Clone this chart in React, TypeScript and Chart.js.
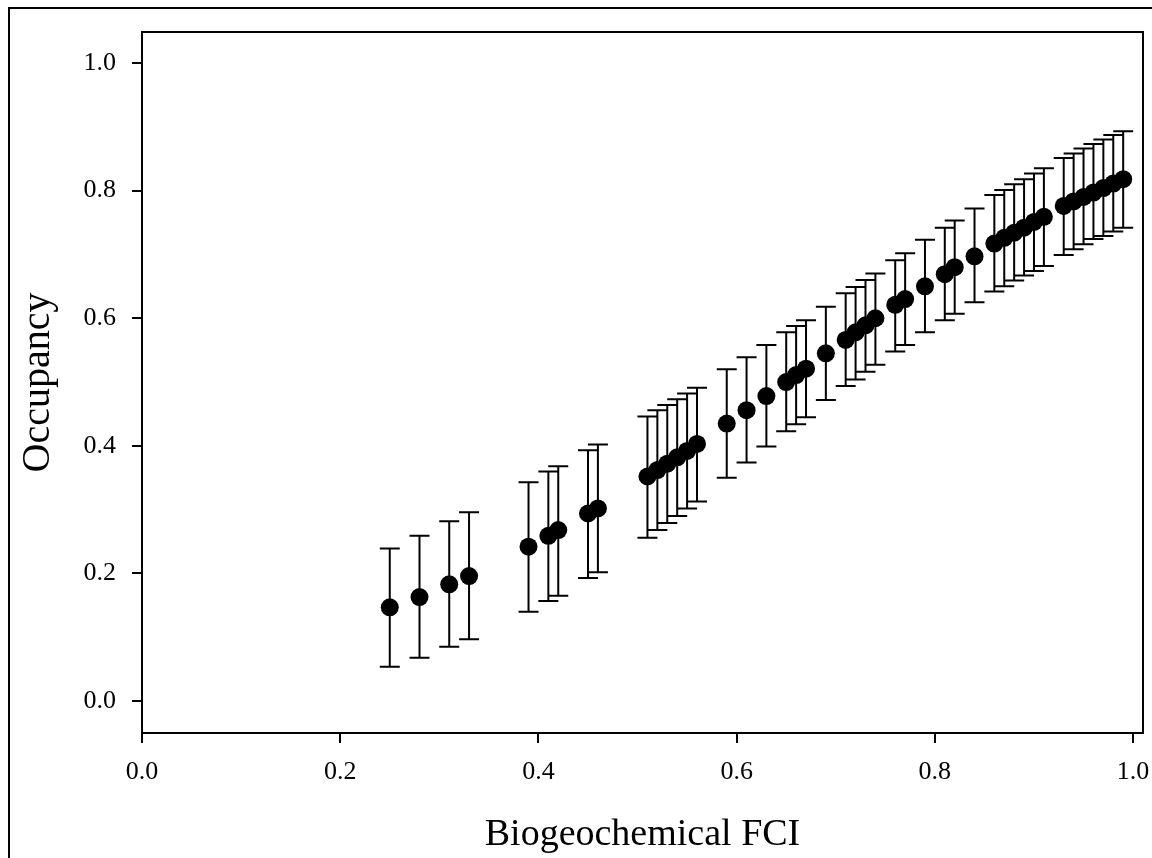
import React, { useEffect, useRef } from "react";
import { Chart, registerables } from "chart.js";

Chart.register(...registerables);

const fciValues = [0.25, 0.28, 0.31, 0.33, 0.39, 0.41, 0.42, 0.45, 0.46, 0.51, 0.52, 0.53, 0.54, 0.55, 0.56, 0.59, 0.61, 0.63, 0.65, 0.66, 0.67, 0.69, 0.71, 0.72, 0.73, 0.74, 0.76, 0.77, 0.79, 0.81, 0.82, 0.84, 0.86, 0.87, 0.88, 0.89, 0.90, 0.91, 0.93, 0.94, 0.95, 0.96, 0.97, 0.98, 0.99];
const occupancy = [0.147, 0.163, 0.183, 0.196, 0.242, 0.259, 0.268, 0.294, 0.302, 0.352, 0.362, 0.372, 0.382, 0.392, 0.403, 0.435, 0.456, 0.478, 0.500, 0.511, 0.521, 0.545, 0.566, 0.578, 0.589, 0.600, 0.621, 0.630, 0.650, 0.669, 0.680, 0.697, 0.717, 0.726, 0.734, 0.742, 0.751, 0.759, 0.776, 0.783, 0.790, 0.797, 0.804, 0.811, 0.818];
const upperCI = [0.239, 0.259, 0.282, 0.296, 0.343, 0.360, 0.368, 0.393, 0.402, 0.446, 0.456, 0.464, 0.473, 0.482, 0.491, 0.520, 0.539, 0.558, 0.578, 0.588, 0.597, 0.618, 0.639, 0.649, 0.660, 0.670, 0.691, 0.702, 0.723, 0.742, 0.753, 0.772, 0.793, 0.801, 0.810, 0.818, 0.827, 0.835, 0.851, 0.858, 0.866, 0.873, 0.880, 0.887, 0.893];
const lowerCI = [0.054, 0.068, 0.085, 0.097, 0.140, 0.157, 0.165, 0.193, 0.202, 0.256, 0.268, 0.279, 0.290, 0.302, 0.313, 0.350, 0.374, 0.399, 0.423, 0.434, 0.445, 0.472, 0.494, 0.504, 0.516, 0.527, 0.548, 0.558, 0.578, 0.597, 0.607, 0.625, 0.642, 0.650, 0.659, 0.667, 0.674, 0.682, 0.699, 0.708, 0.716, 0.724, 0.729, 0.736, 0.742];

const xTickValues = [0.0, 0.2, 0.4, 0.6, 0.8, 1.0];
const yTickValues = [0.0, 0.2, 0.4, 0.6, 0.8, 1.0];

const FONT = "'Liberation Serif', 'Times New Roman', serif";

const errorBarPlugin = {
  id: "errorBars",
  beforeDatasetsDraw(chart: any) {
    const ctx = chart.ctx;
    const xs = chart.scales.x;
    const ys = chart.scales.y;
    ctx.save();
    ctx.strokeStyle = "#000";
    ctx.lineWidth = 2;
    const cap = 10;
    for (let i = 0; i < fciValues.length; i++) {
      const px = xs.getPixelForValue(fciValues[i]);
      const pHi = ys.getPixelForValue(upperCI[i]);
      const pLo = ys.getPixelForValue(lowerCI[i]);
      ctx.beginPath();
      ctx.moveTo(px, pHi);
      ctx.lineTo(px, pLo);
      ctx.moveTo(px - cap, pHi);
      ctx.lineTo(px + cap, pHi);
      ctx.moveTo(px - cap, pLo);
      ctx.lineTo(px + cap, pLo);
      ctx.stroke();
    }
    ctx.restore();
  },
};

const framePlugin = {
  id: "frames",
  afterDraw(chart: any) {
    const ctx = chart.ctx;
    const a = chart.chartArea;
    ctx.save();
    ctx.strokeStyle = "#000";
    ctx.lineWidth = 2;
    ctx.strokeRect(a.left, a.top, a.right - a.left, a.bottom - a.top);
    ctx.beginPath();
    ctx.moveTo(9, chart.height);
    ctx.lineTo(9, 8);
    ctx.lineTo(chart.width, 8);
    ctx.stroke();
    ctx.restore();
  },
};

export default function App() {
  const ref = useRef<HTMLCanvasElement | null>(null);
  useEffect(() => {
    if (!ref.current) return;
    const chart = new Chart(ref.current, {
      type: "scatter",
      data: {
        datasets: [
          {
            data: fciValues.map((x, i) => ({ x, y: occupancy[i] })),
            pointRadius: 9,
            pointHoverRadius: 9,
            backgroundColor: "#000",
            borderWidth: 0,
          },
        ],
      },
      options: {
        animation: false,
        responsive: false,
        events: [],
        layout: { autoPadding: false, padding: { left: 0, right: 9, top: 32, bottom: 0 } },
        plugins: { legend: { display: false }, tooltip: { enabled: false } },
        scales: {
          x: {
            type: "linear",
            min: 0,
            max: 1.01,
            afterFit: (s: any) => {
              s.height = 125;
              s.paddingLeft = 0;
              s.paddingRight = 0;
            },
            afterBuildTicks: (s: any) => {
              s.ticks = xTickValues.map((v) => ({ value: v }));
            },
            border: { display: false },
            grid: { display: true, drawOnChartArea: false, drawTicks: true, tickLength: 10, color: "#000", lineWidth: 2 },
            ticks: {
              color: "#000",
              font: { family: FONT, size: 26 },
              padding: 14,
              maxRotation: 0,
              callback: (v: any) => Number(v).toFixed(1),
            },
            title: {
              display: true,
              text: "Biogeochemical FCI",
              color: "#000",
              font: { family: FONT, size: 38, lineHeight: 1.2 },
              padding: { top: 0, bottom: 0 },
            },
          },
          y: {
            type: "linear",
            min: -0.05,
            max: 1.0486,
            afterFit: (s: any) => {
              s.width = 142;
              s.paddingTop = 0;
              s.paddingBottom = 0;
            },
            afterBuildTicks: (s: any) => {
              s.ticks = yTickValues.map((v) => ({ value: v }));
            },
            border: { display: false },
            grid: { display: true, drawOnChartArea: false, drawTicks: true, tickLength: 10, color: "#000", lineWidth: 2 },
            ticks: {
              color: "#000",
              font: { family: FONT, size: 26 },
              padding: 16,
              callback: (v: any) => Number(v).toFixed(1),
            },
            title: {
              display: true,
              text: "Occupancy",
              color: "#000",
              font: { family: FONT, size: 40, lineHeight: 1.2 },
              padding: { top: 14, bottom: 0 },
            },
          },
        },
      },
      plugins: [errorBarPlugin, framePlugin],
    });
    return () => chart.destroy();
  }, []);
  return (
    <div style={{ position: "fixed", left: 0, top: 0, width: 1152, height: 858, background: "#fff" }}>
      <canvas ref={ref} width={1152} height={858} style={{ display: "block", width: 1152, height: 858 }} />
    </div>
  );
}
